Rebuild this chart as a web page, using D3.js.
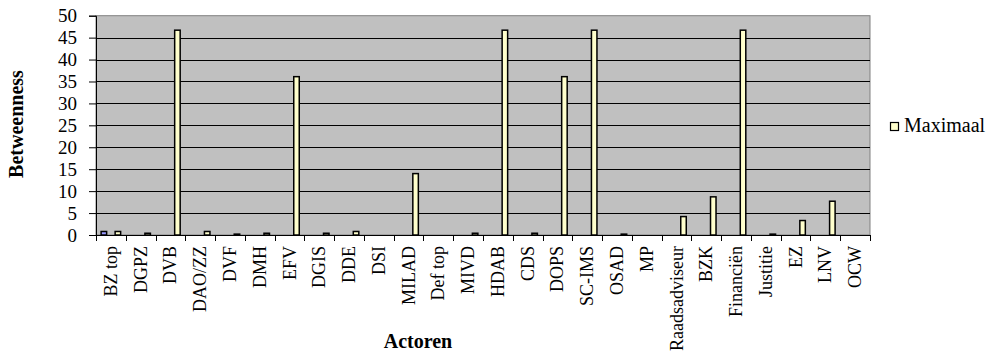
<!DOCTYPE html>
<html>
<head>
<meta charset="utf-8">
<script src="https://cdn.jsdelivr.net/npm/d3@7"></script>
<style>
  html, body { margin: 0; padding: 0; background: #fff; }
  svg { display: block; }
  text { font-family: "Liberation Serif", "Times New Roman", serif; fill: #000; }
</style>
</head>
<body>
<svg id="chart" width="997" height="353"></svg>
<script>
// Actors along the x axis
const categories = ["BZ top", "DGPZ", "DVB", "DAO/ZZ", "DVF", "DMH", "EFV", "DGIS", "DDE", "DSI",
  "MILAD", "Def top", "MIVD", "HDAB", "CDS", "DOPS", "SC-IMS", "OSAD", "MP", "Raadsadviseur",
  "BZK", "Financiën", "Justitie", "EZ", "LNV", "OCW"];

// Series 1 (only BZ top has a value), series 2 empty, series 3 "Maximaal"
const series1 = [0.8, null, null, null, null, null, null, null, null, null, null, null, null,
  null, null, null, null, null, null, null, null, null, null, null, null, null];
const series2 = categories.map(() => null);
const maximaal = [0.8, 0.4, 46.7, 0.8, 0.2, 0.4, 36.1, 0.4, 0.8, 0, 14.0, 0, 0.4, 46.7, 0.4,
  36.1, 46.7, 0.2, 0, 4.2, 8.7, 46.7, 0.2, 3.3, 7.7, 0];

const yTicks = [0, 5, 10, 15, 20, 25, 30, 35, 40, 45, 50];

const seriesNames = ["s1", "s2", "Maximaal"];
const seriesValues = [series1, series2, maximaal];
const seriesColors = ["#9999ff", "#993366", "#ffffcc"];

const svg = d3.select("#chart");
const plotL = 96, plotR = 870, plotT = 15.7, plotB = 235;

const x = d3.scaleBand().domain(categories).range([plotL, plotR]).padding(0);
const xs = d3.scaleBand().domain(seriesNames).range([0, x.bandwidth()])
  .paddingInner(0).paddingOuter(0.625);
const y = d3.scaleLinear().domain([0, 50]).range([plotB, plotT]);

// plot area
svg.append("rect").attr("x", plotL).attr("y", plotT)
  .attr("width", plotR - plotL).attr("height", plotB - plotT)
  .attr("fill", "#c0c0c0").attr("stroke", "#808080").attr("stroke-width", 1);

// horizontal gridlines
svg.append("g").selectAll("line").data(yTicks.filter(d => d > 0 && d < 50)).join("line")
  .attr("x1", plotL).attr("x2", plotR)
  .attr("y1", d => Math.round(y(d)) + 0.5).attr("y2", d => Math.round(y(d)) + 0.5)
  .attr("stroke", "#000").attr("stroke-width", 1);

// y axis
const yAxis = d3.axisLeft(y).tickValues(yTicks).tickSize(7).tickPadding(12);
const gy = svg.append("g").attr("transform", `translate(${plotL},0)`).call(yAxis);
gy.select(".domain").attr("stroke", "#000");
gy.selectAll(".tick line").attr("stroke", "#000");
gy.selectAll(".tick text").attr("font-family", "Liberation Serif").attr("font-size", 19)
  .attr("fill", "#000");

// x axis
const xAxis = d3.axisBottom(x).tickSize(0).tickFormat("");
const gx = svg.append("g").attr("transform", `translate(0,${plotB})`).call(xAxis);
gx.select(".domain").attr("stroke", "#000");
gx.selectAll(".tick").remove();
// category boundary ticks
const bounds = categories.map(c => x(c)).concat([plotR]);
gx.selectAll("line.bt").data(bounds).join("line").attr("class", "bt")
  .attr("x1", d => Math.round(d) + 0.5).attr("x2", d => Math.round(d) + 0.5)
  .attr("y1", 0).attr("y2", 6).attr("stroke", "#000");

// category labels
svg.append("g").selectAll("text").data(categories).join("text")
  .attr("transform", d => `translate(${x(d) + x.bandwidth() / 2 + 6},246) rotate(-90)`)
  .attr("text-anchor", "end").attr("font-size", 18).text(d => d);

// bars
seriesValues.forEach((vals, si) => {
  svg.append("g").selectAll("rect")
    .data(categories.map((c, i) => ({ c, v: vals[i] })).filter(d => d.v !== null && d.v > 0))
    .join("rect")
    .attr("x", d => x(d.c) + xs(seriesNames[si]) + 0.75)
    .attr("width", xs.bandwidth() - 1.5)
    .attr("y", d => y(d.v))
    .attr("height", d => y(0) - y(d.v))
    .attr("fill", seriesColors[si]).attr("stroke", "#000").attr("stroke-width", 1.5);
});

// axis titles
svg.append("text").attr("transform", "translate(23,124) rotate(-90)")
  .attr("text-anchor", "middle").attr("font-size", 20).attr("font-weight", "bold")
  .text("Betweenness");
svg.append("text").attr("x", 418).attr("y", 348)
  .attr("text-anchor", "middle").attr("font-size", 20).attr("font-weight", "bold")
  .text("Actoren");

// legend
const lg = svg.append("g").attr("transform", "translate(890,122)");
lg.append("rect").attr("x", 0.5).attr("y", 0.5).attr("width", 8).attr("height", 8)
  .attr("fill", seriesColors[2]).attr("stroke", "#000").attr("stroke-width", 1.2);
lg.append("text").attr("x", 14).attr("y", 10).attr("font-size", 20).text("Maximaal");
</script>
</body>
</html>
